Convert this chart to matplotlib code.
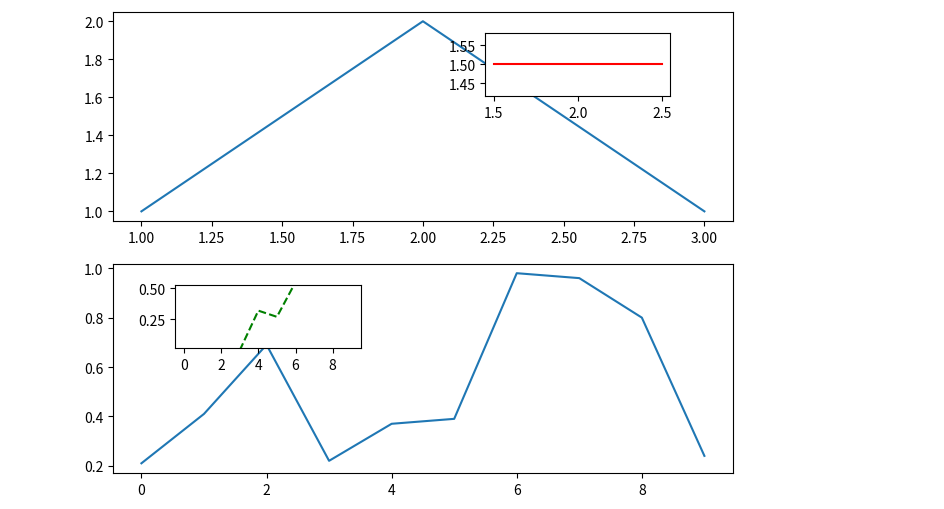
import matplotlib
matplotlib.use("Agg")
import matplotlib.pyplot as plt

plt.rcParams['font.family'] = ['Noto Sans CJK SC', 'DejaVu Sans']
plt.rcParams['axes.unicode_minus'] = False

# 上圖資料
top_x = [1, 2, 3]
top_y = [1, 2, 1]
top_inset_x = [1.5, 2.5]
top_inset_y = [1.5, 1.5]

# 下圖資料
bot_x = list(range(10))
bot_y = [0.21, 0.41, 0.69, 0.22, 0.37, 0.39, 0.98, 0.96, 0.80, 0.24]
bot_inset_x = [3, 4, 5, 6, 7]
bot_inset_y = [0.0, 0.32, 0.27, 0.55, 0.8]

fig = plt.figure(figsize=(9.44, 5.1), dpi=100)
ax1 = fig.add_axes([0.12, 0.565, 0.656, 0.41])
ax2 = fig.add_axes([0.12, 0.071, 0.656, 0.41])

ax1.plot(top_x, top_y)
ax2.plot(bot_x, bot_y)

ins1 = fig.add_axes([0.514, 0.810, 0.196, 0.124])
ins1.plot(top_inset_x, top_inset_y, color='red')

ins2 = fig.add_axes([0.185, 0.316, 0.197, 0.124])
ins2.plot(bot_inset_x, bot_inset_y, color='green', linestyle='--')
ins2.set_xlim(-0.5, 9.5)
ins2.set_ylim(0.02, 0.53)
ins2.set_xticks([0, 2, 4, 6, 8])
ins2.set_yticks([0.25, 0.50])

fig.savefig("out.png", dpi=100)
